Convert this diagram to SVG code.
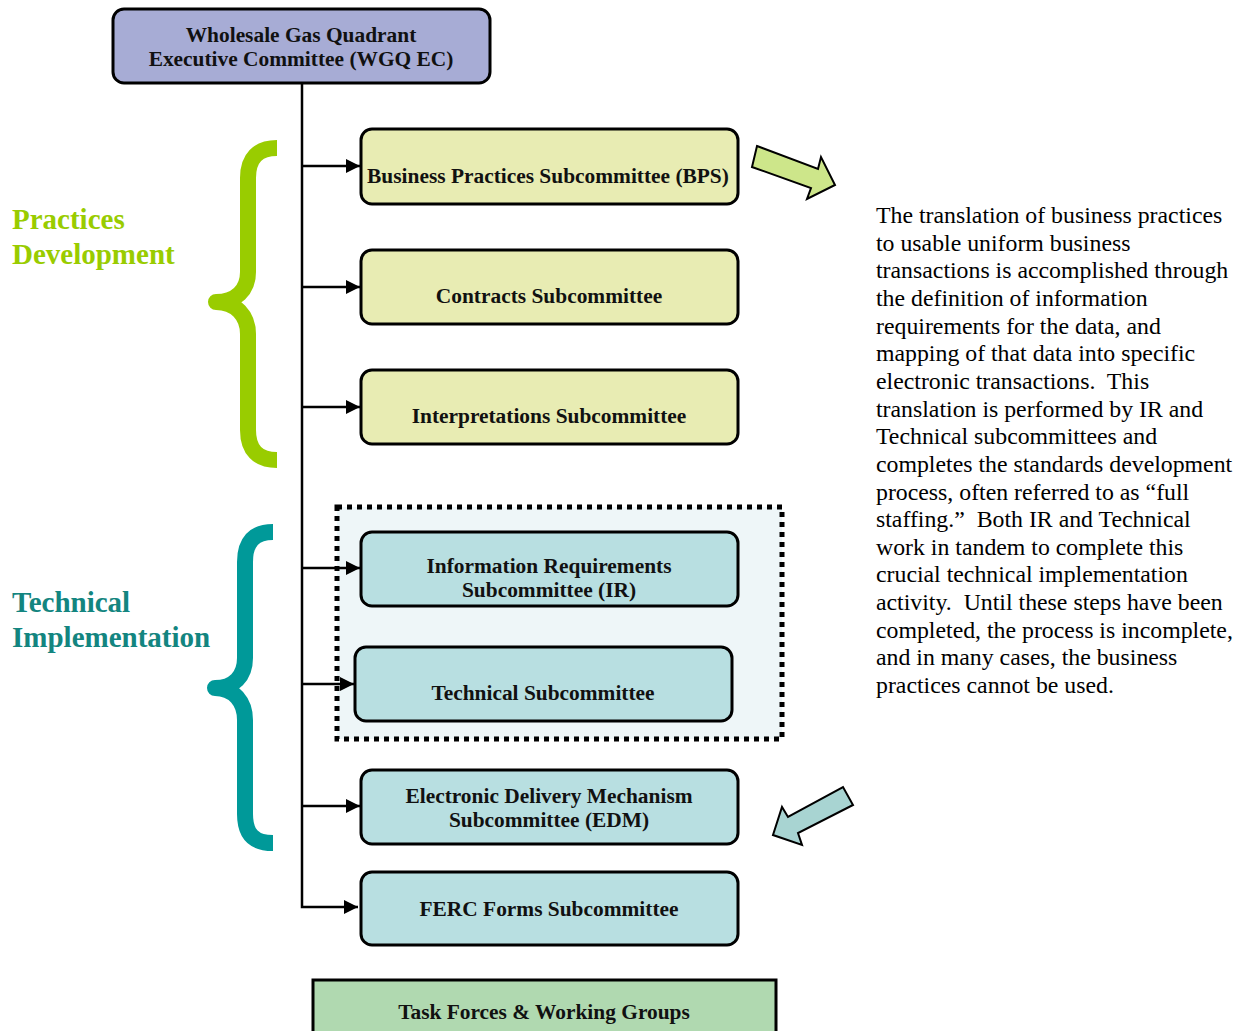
<svg xmlns="http://www.w3.org/2000/svg" width="1246" height="1031" viewBox="0 0 1246 1031">
<style>
.box{stroke:#000;stroke-width:3}
.pd{fill:#e8ecb3}
.ti{fill:#b8dfe1}
.bt{font-family:"Liberation Serif","Times New Roman",serif;font-weight:bold;font-size:21.4px;text-anchor:middle;fill:#111}
.lbl{font-family:"Liberation Serif","Times New Roman",serif;font-weight:bold;font-size:29px}
.para{font-family:"Liberation Serif","Times New Roman",serif;font-size:23.8px;fill:#000;white-space:pre}
.conn{fill:none;stroke:#000;stroke-width:2.5}
.brace{fill:none;stroke-width:16;stroke-linecap:butt;stroke-linejoin:round}
</style>
<defs>
<marker id="ah" viewBox="0 0 10 10" refX="10" refY="5" markerWidth="14" markerHeight="14" markerUnits="userSpaceOnUse" orient="auto">
<path d="M0,0 L10,5 L0,10 z" fill="#000"/>
</marker>
</defs>
<rect width="1246" height="1031" fill="#fff"/>

<g id="group-technical">
<rect x="337" y="507" width="445" height="232" fill="#eef6f8" stroke="#000" stroke-width="5" stroke-dasharray="5 5"/>
</g>

<g id="connectors">
<polyline class="conn" points="302,83 302,907 358,907" marker-end="url(#ah)"/>
<line class="conn" x1="302" y1="166" x2="360" y2="166" marker-end="url(#ah)"/>
<line class="conn" x1="302" y1="287" x2="360" y2="287" marker-end="url(#ah)"/>
<line class="conn" x1="302" y1="407" x2="360" y2="407" marker-end="url(#ah)"/>
<line class="conn" x1="302" y1="568" x2="360" y2="568" marker-end="url(#ah)"/>
<line class="conn" x1="302" y1="684" x2="354" y2="684" marker-end="url(#ah)"/>
<line class="conn" x1="302" y1="806" x2="360" y2="806" marker-end="url(#ah)"/>
</g>

<g id="wgq-ec">
<rect class="box" x="113" y="9" width="377" height="74" rx="11" fill="#a7acd5"/>
<text class="bt" x="301" y="42">Wholesale Gas Quadrant</text>
<text class="bt" x="301" y="66">Executive Committee (WGQ EC)</text>
</g>

<g id="bps">
<rect class="box pd" x="361" y="129" width="377" height="75" rx="11"/>
<text class="bt" x="548" y="183">Business Practices Subcommittee (BPS)</text>
</g>

<g id="contracts">
<rect class="box pd" x="361" y="250" width="377" height="74" rx="11"/>
<text class="bt" x="549" y="303">Contracts Subcommittee</text>
</g>

<g id="interpretations">
<rect class="box pd" x="361" y="370" width="377" height="74" rx="11"/>
<text class="bt" x="549" y="423">Interpretations Subcommittee</text>
</g>

<g id="ir">
<rect class="box ti" x="361" y="532" width="377" height="74" rx="11"/>
<text class="bt" x="549" y="573">Information Requirements</text>
<text class="bt" x="549" y="597">Subcommittee (IR)</text>
</g>

<g id="technical">
<rect class="box ti" x="355" y="647" width="377" height="74" rx="11"/>
<text class="bt" x="543" y="700">Technical Subcommittee</text>
</g>

<g id="edm">
<rect class="box ti" x="361" y="770" width="377" height="74" rx="11"/>
<text class="bt" x="549" y="803">Electronic Delivery Mechanism</text>
<text class="bt" x="549" y="827">Subcommittee (EDM)</text>
</g>

<g id="ferc">
<rect class="box ti" x="361" y="872" width="377" height="73" rx="11"/>
<text class="bt" x="549" y="916">FERC Forms Subcommittee</text>
</g>

<g id="task-forces">
<rect class="box" x="313" y="980" width="463" height="60" fill="#b0d9b0"/>
<text class="bt" x="544" y="1019">Task Forces &amp; Working Groups</text>
</g>

<g id="practices-development">
<path class="brace" stroke="#99cc00" d="M277,148 C258,148 248,158 248,178 L248,272 C248,290 236,302 216,302 C236,302 248,316 248,334 L248,430 C248,450 258,460 277,460"/>
<text class="lbl" fill="#99cc00" x="12" y="229">Practices</text>
<text class="lbl" fill="#99cc00" x="12" y="264">Development</text>
</g>

<g id="technical-implementation">
<path class="brace" stroke="#009999" d="M273,532 C254,532 245,542 245,562 L245,658 C245,676 234,688 215,688 C234,688 245,702 245,720 L245,814 C245,834 254,843 273,843"/>
<text class="lbl" fill="#138580" x="12" y="612">Technical</text>
<text class="lbl" fill="#138580" x="12" y="647">Implementation</text>
</g>

<g id="arrow-green">
<polygon points="757,146 818,169 821,157 835,185 807,199 811,188 752,167" fill="#cde68a" stroke="#000" stroke-width="2" stroke-linejoin="miter"/>
</g>

<g id="arrow-teal">
<polygon points="773,835 782,807 788,817 843,787 853,805 798,833 802,845" fill="#a8d4d2" stroke="#000" stroke-width="2"/>
</g>

<g id="description">
<text class="para" xml:space="preserve"><tspan x="876" y="223">The translation of business practices</tspan><tspan x="876" y="250.6">to usable uniform business</tspan><tspan x="876" y="278.3">transactions is accomplished through</tspan><tspan x="876" y="305.9">the definition of information</tspan><tspan x="876" y="333.6">requirements for the data, and</tspan><tspan x="876" y="361.2">mapping of that data into specific</tspan><tspan x="876" y="388.9">electronic transactions.  This</tspan><tspan x="876" y="416.5">translation is performed by IR and</tspan><tspan x="876" y="444.2">Technical subcommittees and</tspan><tspan x="876" y="471.8">completes the standards development</tspan><tspan x="876" y="499.5">process, often referred to as “full</tspan><tspan x="876" y="527.1">staffing.”  Both IR and Technical</tspan><tspan x="876" y="554.8">work in tandem to complete this</tspan><tspan x="876" y="582.4">crucial technical implementation</tspan><tspan x="876" y="610.1">activity.  Until these steps have been</tspan><tspan x="876" y="637.7">completed, the process is incomplete,</tspan><tspan x="876" y="665.4">and in many cases, the business</tspan><tspan x="876" y="693">practices cannot be used.</tspan></text>
</g>
</svg>
